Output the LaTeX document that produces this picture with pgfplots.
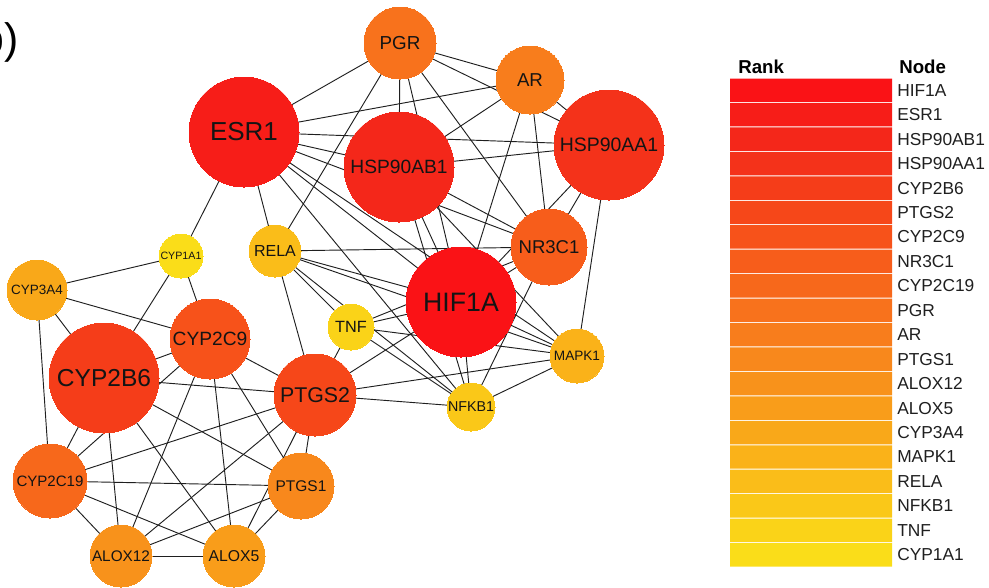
\documentclass[border=0pt]{standalone}
\usepackage{pgfplots}
\pgfplotsset{compat=1.18}
\usepackage{fontspec}
\setmainfont{Liberation Sans}

% rank colours, red (rank 1) to yellow (rank 20)
\definecolor{c0}{RGB}{250,18,22}
\definecolor{c1}{RGB}{247,29,24}
\definecolor{c2}{RGB}{244,39,26}
\definecolor{c3}{RGB}{244,50,26}
\definecolor{c4}{RGB}{245,61,25}
\definecolor{c5}{RGB}{246,71,25}
\definecolor{c6}{RGB}{247,82,26}
\definecolor{c7}{RGB}{247,93,27}
\definecolor{c8}{RGB}{247,104,27}
\definecolor{c9}{RGB}{248,114,28}
\definecolor{c10}{RGB}{248,125,28}
\definecolor{c11}{RGB}{248,136,28}
\definecolor{c12}{RGB}{248,146,27}
\definecolor{c13}{RGB}{249,157,26}
\definecolor{c14}{RGB}{249,168,25}
\definecolor{c15}{RGB}{250,178,25}
\definecolor{c16}{RGB}{250,189,25}
\definecolor{c17}{RGB}{250,200,24}
\definecolor{c18}{RGB}{250,211,24}
\definecolor{c19}{RGB}{250,221,25}

% node: name, x, y, radius (px), rank index
\newcommand\defnode[5]{%
  \expandafter\def\csname nx#1\endcsname{#2}%
  \expandafter\def\csname ny#1\endcsname{#3}%
  \expandafter\def\csname nr#1\endcsname{#4}%
  \expandafter\def\csname nk#1\endcsname{#5}}

\defnode{HIF1A}{461}{302}{55}{0}
\defnode{ESR1}{244}{132}{55}{1}
\defnode{HSP90AB1}{399}{167}{55}{2}
\defnode{HSP90AA1}{609}{145}{55}{3}
\defnode{CYP2B6}{104}{378}{55}{4}
\defnode{PTGS2}{315}{395}{41}{5}
\defnode{CYP2C9}{210}{339}{40}{6}
\defnode{NR3C1}{549}{247}{38}{7}
\defnode{CYP2C19}{50}{481}{37}{8}
\defnode{PGR}{400}{43}{36}{9}
\defnode{AR}{530}{80}{34}{10}
\defnode{PTGS1}{301}{486}{33}{11}
\defnode{ALOX12}{121}{556}{31}{12}
\defnode{ALOX5}{234}{556}{31}{13}
\defnode{CYP3A4}{37}{290}{30}{14}
\defnode{MAPK1}{577}{356}{27}{15}
\defnode{RELA}{275}{251}{26}{16}
\defnode{NFKB1}{471}{407}{24}{17}
\defnode{TNF}{351}{327}{23}{18}
\defnode{CYP1A1}{181}{256}{22}{19}

\pgfplotsset{netedge/.style={black!88, line width=0.7pt, mark=none}}

% edge between two named nodes
\newcommand\edge[2]{%
  \edef\tmp{\noexpand\addplot[netedge] coordinates
    {(\csname nx#1\endcsname,\csname ny#1\endcsname)
     (\csname nx#2\endcsname,\csname ny#2\endcsname)};}\tmp}

% filled node with its label on top; #2 = font size in pt
\newcommand\gnode[2]{%
  \pgfmathsetmacro\ms{0.75*\csname nr#1\endcsname}%
  \edef\tmp{\noexpand\addplot[only marks, mark=*, mark size=\ms pt,
      color=c\csname nk#1\endcsname,
      mark options={line width=0pt, fill=c\csname nk#1\endcsname},
      nodes near coords={#1},
      nodes near coords style={anchor=center, inner sep=0pt, text=black!92,
        font=\noexpand\fontsize{#2}{#2}\noexpand\selectfont}]
    coordinates {(\csname nx#1\endcsname,\csname ny#1\endcsname)};}\tmp}

\newcommand\legfont{\fontsize{13}{13}\selectfont}
% legend row: rank index, node name
\newcommand\legrow[2]{%
  \pgfmathsetmacro\ya{78+24.45*#1+0.5}%
  \pgfmathsetmacro\yb{78+24.45*(#1+1)-0.5}%
  \pgfmathsetmacro\yc{78+24.45*(#1+0.5)}%
  \edef\tmp{\noexpand\addplot[fill=c#1, draw=none, mark=none]
    coordinates {(730,\ya) (892,\ya) (892,\yb) (730,\yb) (730,\ya)};
    \noexpand\node[anchor=west, inner sep=0pt, text=black!88, font=\noexpand\legfont]
      at (axis cs:897,\yc) {#2};}\tmp}

\begin{document}
\begin{tikzpicture}
\begin{axis}[
  name=ax,
  scale only axis, width=741.75pt, height=440.25pt,
  xmin=0, xmax=989, ymin=0, ymax=587, y dir=reverse,
  hide axis, clip=false,
]
% interactions
\edge{ESR1}{PGR}
\edge{ESR1}{AR}
\edge{ESR1}{HSP90AB1}
\edge{ESR1}{HSP90AA1}
\edge{ESR1}{NR3C1}
\edge{ESR1}{HIF1A}
\edge{ESR1}{MAPK1}
\edge{ESR1}{NFKB1}
\edge{ESR1}{RELA}
\edge{ESR1}{CYP1A1}
\edge{PGR}{AR}
\edge{PGR}{HSP90AB1}
\edge{PGR}{HSP90AA1}
\edge{PGR}{NR3C1}
\edge{PGR}{HIF1A}
\edge{PGR}{RELA}
\edge{AR}{HSP90AB1}
\edge{AR}{HSP90AA1}
\edge{AR}{NR3C1}
\edge{AR}{HIF1A}
\edge{HSP90AB1}{HSP90AA1}
\edge{HSP90AB1}{NR3C1}
\edge{HSP90AB1}{HIF1A}
\edge{HSP90AB1}{MAPK1}
\edge{HSP90AB1}{NFKB1}
\edge{HSP90AA1}{NR3C1}
\edge{HSP90AA1}{HIF1A}
\edge{HSP90AA1}{MAPK1}
\edge{NR3C1}{HIF1A}
\edge{NR3C1}{NFKB1}
\edge{NR3C1}{RELA}
\edge{NR3C1}{TNF}
\edge{HIF1A}{RELA}
\edge{HIF1A}{TNF}
\edge{HIF1A}{MAPK1}
\edge{HIF1A}{NFKB1}
\edge{HIF1A}{PTGS2}
\edge{RELA}{TNF}
\edge{RELA}{MAPK1}
\edge{RELA}{NFKB1}
\edge{RELA}{PTGS2}
\edge{TNF}{MAPK1}
\edge{TNF}{NFKB1}
\edge{TNF}{PTGS2}
\edge{MAPK1}{NFKB1}
\edge{MAPK1}{PTGS2}
\edge{NFKB1}{PTGS2}
\edge{CYP1A1}{CYP3A4}
\edge{CYP1A1}{CYP2B6}
\edge{CYP1A1}{CYP2C9}
\edge{CYP3A4}{CYP2B6}
\edge{CYP3A4}{CYP2C9}
\edge{CYP3A4}{CYP2C19}
\edge{CYP2B6}{CYP2C9}
\edge{CYP2B6}{PTGS2}
\edge{CYP2B6}{PTGS1}
\edge{CYP2B6}{ALOX5}
\edge{CYP2B6}{ALOX12}
\edge{CYP2B6}{CYP2C19}
\edge{CYP2C9}{CYP2C19}
\edge{CYP2C9}{PTGS2}
\edge{CYP2C9}{PTGS1}
\edge{CYP2C9}{ALOX12}
\edge{CYP2C9}{ALOX5}
\edge{CYP2C19}{PTGS2}
\edge{CYP2C19}{PTGS1}
\edge{CYP2C19}{ALOX12}
\edge{CYP2C19}{ALOX5}
\edge{PTGS2}{PTGS1}
\edge{PTGS2}{ALOX12}
\edge{PTGS2}{ALOX5}
\edge{PTGS1}{ALOX12}
\edge{PTGS1}{ALOX5}
\edge{ALOX12}{ALOX5}
% proteins
\gnode{HIF1A}{20}
\gnode{ESR1}{19.5}
\gnode{HSP90AB1}{14.4}
\gnode{HSP90AA1}{14.6}
\gnode{CYP2B6}{18.4}
\gnode{PTGS2}{16}
\gnode{CYP2C9}{14.4}
\gnode{NR3C1}{13.9}
\gnode{CYP2C19}{11.3}
\gnode{PGR}{14.1}
\gnode{AR}{14}
\gnode{PTGS1}{11.6}
\gnode{ALOX12}{11.5}
\gnode{ALOX5}{11.8}
\gnode{CYP3A4}{10.1}
\gnode{MAPK1}{10.2}
\gnode{RELA}{12}
\gnode{NFKB1}{10.7}
\gnode{TNF}{12.2}
\gnode{CYP1A1}{8}
% rank scale
\node[anchor=base west, inner sep=0pt, font=\fontsize{14}{14}\selectfont\bfseries]
  at (axis cs:738,73) {Rank};
\node[anchor=base west, inner sep=0pt, font=\fontsize{14}{14}\selectfont\bfseries]
  at (axis cs:899,73) {Node};
\legrow{0}{HIF1A}
\legrow{1}{ESR1}
\legrow{2}{HSP90AB1}
\legrow{3}{HSP90AA1}
\legrow{4}{CYP2B6}
\legrow{5}{PTGS2}
\legrow{6}{CYP2C9}
\legrow{7}{NR3C1}
\legrow{8}{CYP2C19}
\legrow{9}{PGR}
\legrow{10}{AR}
\legrow{11}{PTGS1}
\legrow{12}{ALOX12}
\legrow{13}{ALOX5}
\legrow{14}{CYP3A4}
\legrow{15}{MAPK1}
\legrow{16}{RELA}
\legrow{17}{NFKB1}
\legrow{18}{TNF}
\legrow{19}{CYP1A1}
% panel tag
\node[anchor=base east, inner sep=0pt, font=\fontsize{32}{32}\selectfont]
  at (axis cs:19,53) {b)};
\end{axis}
\pgfresetboundingbox
\useasboundingbox (ax.south west) rectangle (ax.north east);
\end{tikzpicture}
\end{document}
